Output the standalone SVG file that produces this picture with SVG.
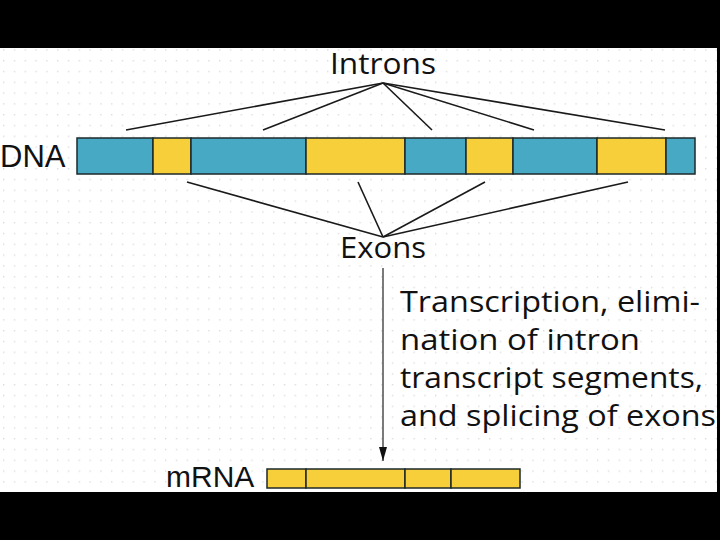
<svg xmlns="http://www.w3.org/2000/svg" width="720" height="540" viewBox="0 0 720 540">
  <defs>
    <pattern id="dots" x="3" y="6" width="10.8" height="10.8" patternUnits="userSpaceOnUse">
      <rect x="0" y="0" width="1.4" height="1.4" fill="#dcdcdc"/>
    </pattern>
    <marker id="arrow" markerWidth="14" markerHeight="8" refX="14" refY="4" orient="auto" markerUnits="userSpaceOnUse" viewBox="0 0 14 8">
      <path d="M0,0 L14,4 L0,8 Z" fill="#111"/>
    </marker>
    <style>
      .sans { font-family: "Open Sans", "Noto Sans", "DejaVu Sans", sans-serif; fill: #111; }
      .helv { font-family: "Liberation Sans", Arial, sans-serif; fill: #111; }
      .blue { fill: #48a9c4; stroke: #1e2a2a; stroke-width: 1.5; }
      .yel { fill: #f6cf3a; stroke: #1e2a2a; stroke-width: 1.5; }
      .ln { stroke: #1a1a1a; stroke-width: 1.6; fill: none; }
    </style>
  </defs>

  <rect x="0" y="0" width="720" height="540" fill="#ffffff"/>
  <rect x="0" y="48" width="720" height="444" fill="url(#dots)"/>

  <!-- black frame bars -->
  <rect x="0" y="0" width="720" height="48" fill="#000"/>
  <rect x="0" y="492" width="720" height="48" fill="#000"/>
  <rect x="717" y="48" width="3" height="444" fill="#000"/>

  <g id="connectors">
    <line class="ln" x1="383" y1="83" x2="126" y2="130"/>
    <line class="ln" x1="383" y1="83" x2="263" y2="130"/>
    <line class="ln" x1="383" y1="83" x2="432" y2="130"/>
    <line class="ln" x1="383" y1="83" x2="534" y2="130"/>
    <line class="ln" x1="383" y1="83" x2="665" y2="130"/>
    <line class="ln" x1="383" y1="237" x2="187" y2="182"/>
    <line class="ln" x1="383" y1="237" x2="358" y2="182"/>
    <line class="ln" x1="383" y1="237" x2="485" y2="182"/>
    <line class="ln" x1="383" y1="237" x2="628" y2="182"/>
    <line x1="383" y1="268" x2="383" y2="461" stroke="#333" stroke-width="1.3" marker-end="url(#arrow)"/>
  </g>

  <g id="introns-label">
    <text class="sans" x="330" y="74" font-size="30" textLength="106" lengthAdjust="spacingAndGlyphs">Introns</text>
  </g>

  <g id="dna">
    <text class="helv" x="0" y="167" font-size="31">DNA</text>
    <rect class="blue" x="77" y="138" width="76" height="36"/>
    <rect class="yel" x="153" y="138" width="38" height="36"/>
    <rect class="blue" x="191" y="138" width="115" height="36"/>
    <rect class="yel" x="306" y="138" width="99" height="36"/>
    <rect class="blue" x="405" y="138" width="61" height="36"/>
    <rect class="yel" x="466" y="138" width="47" height="36"/>
    <rect class="blue" x="513" y="138" width="84" height="36"/>
    <rect class="yel" x="597" y="138" width="69" height="36"/>
    <rect class="blue" x="666" y="138" width="29" height="36"/>
  </g>

  <g id="exons-label">
    <text class="sans" x="340" y="258" font-size="30" textLength="86" lengthAdjust="spacingAndGlyphs">Exons</text>
  </g>

  <g id="process-label">
    <text class="sans" font-size="30">
      <tspan x="400" y="312" textLength="300" lengthAdjust="spacingAndGlyphs">Transcription, elimi-</tspan>
      <tspan x="400" y="350" textLength="240" lengthAdjust="spacingAndGlyphs">nation of intron</tspan>
      <tspan x="400" y="388" textLength="303" lengthAdjust="spacingAndGlyphs">transcript segments,</tspan>
      <tspan x="400" y="426" textLength="316" lengthAdjust="spacingAndGlyphs">and splicing of exons</tspan>
    </text>
  </g>

  <g id="mrna">
    <text class="helv" x="166" y="487" font-size="30">mRNA</text>
    <rect class="yel" x="267" y="469" width="39" height="19"/>
    <rect class="yel" x="306" y="469" width="99" height="19"/>
    <rect class="yel" x="405" y="469" width="46" height="19"/>
    <rect class="yel" x="451" y="469" width="69" height="19"/>
  </g>
</svg>
